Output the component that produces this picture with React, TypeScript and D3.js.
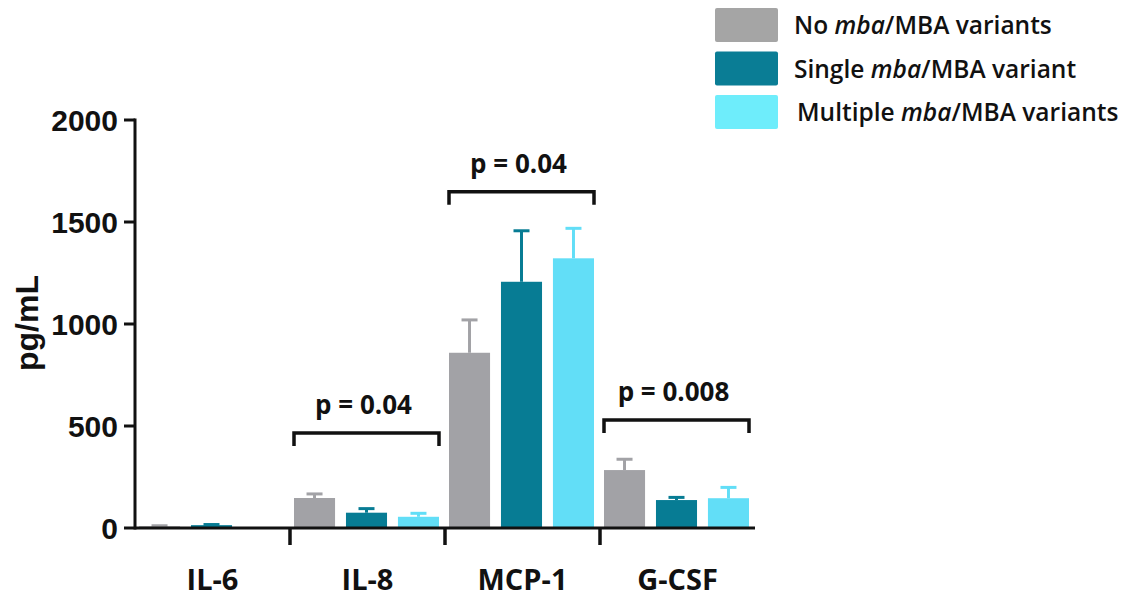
import React, { useEffect, useRef } from 'react';
import * as d3 from 'd3';

const categories = ["IL-6", "IL-8", "MCP-1", "G-CSF"];
const seriesNames = ["No", "Single", "Multiple"];
const noValues = [8, 147, 859, 284];
const noErrors = [3, 20, 161, 53];
const singleValues = [14, 75, 1207, 137];
const singleErrors = [3, 20, 250, 13];
const multipleValues = [0, 55, 1322, 146];
const multipleErrors = [0, 17, 147, 53];
const yTicks = [0, 500, 1000, 1500, 2000];

const bracketCats = ["IL-8", "MCP-1", "G-CSF"];
const bracketLevels = [466, 1648, 529];
const bracketLabels = ["p = 0.04", "p = 0.04", "p = 0.008"];

const legendItems = [
    ["No ", "mba", "/MBA variants"],
    ["Single ", "mba", "/MBA variant"],
    ["Multiple ", "mba", "/MBA variants"],
];

const barColors = ["#a2a2a6", "#077c94", "#62def7"];
const legendColors = ["#a5a5a5", "#0a7d95", "#6eedfb"];

function App() {
    const svgRef = useRef<SVGSVGElement | null>(null);

    useEffect(() => {
        if (!svgRef.current) return;
        const svg = d3.select(svgRef.current);
        svg.selectAll("*").remove();

        const values = [noValues, singleValues, multipleValues];
        const errors = [noErrors, singleErrors, multipleErrors];

        const x0 = d3.scaleBand<string>().domain(categories).range([135, 755]);
        const x1 = d3.scaleBand<string>().domain(seriesNames).range([4, 149]).paddingInner(0.21);
        const y = d3.scaleLinear().domain([0, 2000]).range([528, 120]);

        const g = svg.append("g");

        // bars + error bars
        seriesNames.forEach((s, si) => {
            categories.forEach((c, ci) => {
                const v = values[si][ci];
                const e = errors[si][ci];
                const bx = x0(c)! + x1(s)!;
                const bw = x1.bandwidth();
                const cx = bx + bw / 2;
                if (e > 0) {
                    g.append("line")
                        .attr("x1", cx).attr("x2", cx)
                        .attr("y1", y(v)).attr("y2", y(v + e))
                        .attr("stroke", barColors[si]).attr("stroke-width", 3);
                    g.append("line")
                        .attr("x1", cx - 8).attr("x2", cx + 8)
                        .attr("y1", y(v + e)).attr("y2", y(v + e))
                        .attr("stroke", barColors[si]).attr("stroke-width", 3);
                }
                g.append("rect")
                    .attr("x", bx).attr("width", bw)
                    .attr("y", y(v)).attr("height", y(0) - y(v))
                    .attr("fill", barColors[si]);
            });
        });

        // y axis
        g.append("line")
            .attr("x1", 135).attr("x2", 135)
            .attr("y1", y(2000) - 1.5).attr("y2", y(0) + 1.5)
            .attr("stroke", "#111").attr("stroke-width", 3);
        yTicks.forEach(t => {
            g.append("line")
                .attr("x1", 124).attr("x2", 135)
                .attr("y1", y(t)).attr("y2", y(t))
                .attr("stroke", "#111").attr("stroke-width", 3);
            g.append("text")
                .attr("x", 118).attr("y", y(t))
                .attr("dy", "0.36em")
                .attr("text-anchor", "end")
                .style("font-family", "'Liberation Sans', Arial, sans-serif")
                .style("font-weight", "bold")
                .style("font-size", "30px")
                .style("fill", "#111")
                .text(t);
        });

        // x axis
        g.append("line")
            .attr("x1", 135).attr("x2", 755)
            .attr("y1", y(0)).attr("y2", y(0))
            .attr("stroke", "#111").attr("stroke-width", 3);
        categories.slice(1).forEach(c => {
            g.append("line")
                .attr("x1", x0(c)!).attr("x2", x0(c)!)
                .attr("y1", y(0)).attr("y2", y(0) + 17)
                .attr("stroke", "#111").attr("stroke-width", 3.5);
        });
        categories.forEach(c => {
            g.append("text")
                .attr("x", x0(c)! + x0.bandwidth() / 2)
                .attr("y", 590)
                .attr("text-anchor", "middle")
                .style("font-family", "'Open Sans', sans-serif")
                .style("font-weight", "bold")
                .style("font-size", "29px")
                .style("fill", "#111")
                .text(c);
        });

        // y label
        g.append("text")
            .attr("transform", "translate(38,323) rotate(-90)")
            .attr("text-anchor", "middle")
            .style("font-family", "'Liberation Sans', Arial, sans-serif")
            .style("font-weight", "bold")
            .style("font-size", "32px")
            .style("fill", "#111")
            .text("pg/mL");

        // significance brackets
        bracketCats.forEach((c, i) => {
            const xa = x0(c)! + x1(seriesNames[0])!;
            const xb = x0(c)! + x1(seriesNames[2])! + x1.bandwidth();
            const yb = y(bracketLevels[i]);
            g.append("path")
                .attr("d", `M${xa},${yb + 13}V${yb}H${xb}V${yb + 13}`)
                .attr("fill", "none")
                .attr("stroke", "#111")
                .attr("stroke-width", 3.5);
            g.append("text")
                .attr("x", (xa + xb) / 2 - 3)
                .attr("y", yb - 19)
                .attr("text-anchor", "middle")
                .style("font-family", "'Open Sans', sans-serif")
                .style("font-weight", "bold")
                .style("font-size", "26px")
                .style("fill", "#111")
                .text(bracketLabels[i]);
        });

        // legend
        const legend = svg.append("g");
        legendItems.forEach((item, i) => {
            const ly = 8 + i * 43.5;
            legend.append("rect")
                .attr("x", 715).attr("y", ly)
                .attr("width", 63).attr("height", 34)
                .attr("rx", 2)
                .attr("fill", legendColors[i]);
            const t = legend.append("text")
                .attr("x", i === 2 ? 797 : 794)
                .attr("y", ly + 26)
                .style("font-family", "'Open Sans', sans-serif")
                .style("font-weight", 600)
                .style("font-size", "24.5px")
                .style("fill", "#111");
            t.append("tspan").text(item[0]);
            t.append("tspan").style("font-style", "italic").text(item[1]);
            t.append("tspan").text(item[2]);
        });
    }, []);

    return (
        <svg ref={svgRef} width={1126} height={599}
            style={{ position: "absolute", left: 0, top: 0, background: "#fff" }} />
    );
}

export default App;
